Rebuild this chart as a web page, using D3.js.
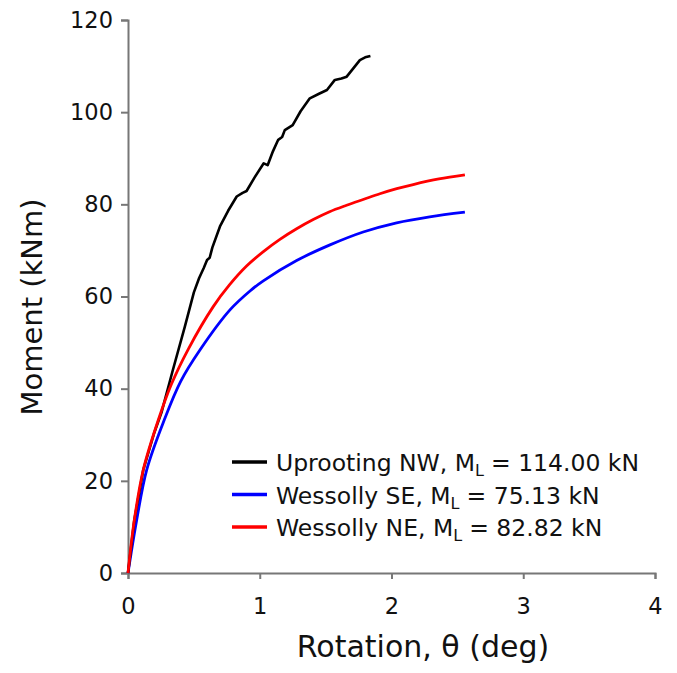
<!DOCTYPE html>
<html>
<head>
<meta charset="utf-8">
<script src="https://cdn.jsdelivr.net/npm/d3@7"></script>
<style>
  body { margin: 0; background: #fff; }
  svg text { font-family: "DejaVu Sans", sans-serif; fill: #111; }
</style>
</head>
<body>
<div id="chart"></div>
<script>
// rotation (deg) vs moment (kNm)
let uprootX = [0, 0.048, 0.116, 0.2, 0.256, 0.34, 0.432, 0.50, 0.54, 0.575, 0.60, 0.62, 0.64, 0.698, 0.76, 0.825, 0.87, 0.90, 0.96, 1.03, 1.06, 1.10, 1.14, 1.17, 1.19, 1.25, 1.31, 1.38, 1.45, 1.51, 1.57, 1.62, 1.66, 1.71, 1.76, 1.80, 1.84];
let uprootY = [0, 11.5, 22.4, 30.5, 35.0, 44.0, 53.5, 60.9, 64.0, 66.2, 67.9, 68.4, 70.6, 75.2, 78.6, 81.7, 82.5, 82.9, 85.8, 88.9, 88.5, 91.5, 94.0, 94.6, 96.1, 97.2, 100.2, 103.0, 104.0, 104.8, 107.0, 107.3, 107.7, 109.5, 111.3, 111.9, 112.2];

let seX = [0, 0.066, 0.142, 0.275, 0.40, 0.546, 0.774, 0.926, 1.027, 1.28, 1.533, 1.785, 2.039, 2.29, 2.557];
let seY = [0, 11.5, 22.4, 33.2, 41.6, 48.4, 57.1, 61.2, 63.4, 67.8, 71.2, 74.0, 76.0, 77.3, 78.3];

let neX = [0, 0.048, 0.116, 0.23, 0.33, 0.458, 0.647, 0.77, 0.90, 1.03, 1.153, 1.28, 1.406, 1.53, 1.659, 1.79, 1.912, 2.04, 2.165, 2.36, 2.557];
let neY = [0, 11.5, 22.4, 33.2, 41.0, 48.6, 57.8, 62.5, 66.6, 69.8, 72.4, 74.7, 76.7, 78.4, 79.8, 81.1, 82.3, 83.4, 84.3, 85.5, 86.4];

let seriesNames = ["Uprooting NW, M", "Wessolly SE, M", "Wessolly NE, M"];
let seriesValues = ["= 114.00 kN", "= 75.13 kN", "= 82.82 kN"];
let seriesColors = ["#000000", "#0000ff", "#ff0000"];

let xTicks = [0, 1, 2, 3, 4];
let yTicks = [0, 20, 40, 60, 80, 100, 120];

let width = 677, height = 673;
let margin = {top: 20, right: 22, bottom: 100, left: 128};

let svg = d3.select("#chart").append("svg")
    .attr("width", width)
    .attr("height", height);

let x = d3.scaleLinear().domain([0, 4]).range([margin.left, width - margin.right]);
let y = d3.scaleLinear().domain([0, 120]).range([height - margin.bottom, margin.top]);

// axes
let xAxis = svg.append("g")
    .attr("transform", "translate(0," + y(0) + ")")
    .call(d3.axisBottom(x).tickValues(xTicks).tickSize(6).tickPadding(19).tickFormat(d3.format("d")));

let yAxis = svg.append("g")
    .attr("transform", "translate(" + x(0) + ",0)")
    .call(d3.axisLeft(y).tickValues(yTicks).tickSize(7).tickPadding(8).tickFormat(d3.format("d")));

[xAxis, yAxis].forEach(function(a){
    a.select(".domain").attr("stroke", "#777").attr("stroke-width", 2);
    a.selectAll(".tick line").attr("stroke", "#777").attr("stroke-width", 2);
    a.selectAll(".tick text").style("font-size", "22.5px").attr("fill", "#111");
});

// axis titles
svg.append("text")
    .attr("x", 423)
    .attr("y", 657)
    .attr("text-anchor", "middle")
    .style("font-size", "30px")
    .text("Rotation, θ (deg)");

svg.append("text")
    .attr("transform", "translate(42,307) rotate(-90)")
    .attr("text-anchor", "middle")
    .style("font-size", "29px")
    .text("Moment (kNm)");

// curves
let line = d3.line()
    .x(d => x(d[0]))
    .y(d => y(d[1]));

let series = [
    d3.zip(uprootX, uprootY),
    d3.zip(seX, seY),
    d3.zip(neX, neY)
];

// blue first, then black, red on top near the origin
[1, 0, 2].forEach(function(i){
    svg.append("path")
        .datum(series[i])
        .attr("fill", "none")
        .attr("stroke", seriesColors[i])
        .attr("stroke-width", i == 0 ? 2.6 : 2.8)
        .attr("stroke-linejoin", "round")
        .attr("d", line.curve(i == 0 ? d3.curveLinear : d3.curveCatmullRom.alpha(0.5)));
});

// legend
let legend = svg.append("g");
seriesNames.forEach(function(name, i){
    let ly = 462 + i * 32.5;
    legend.append("line")
        .attr("x1", 232).attr("x2", 267)
        .attr("y1", ly).attr("y2", ly)
        .attr("stroke", seriesColors[i])
        .attr("stroke-width", 3.5);
    let t = legend.append("text")
        .attr("x", 276)
        .attr("y", ly + 9)
        .style("font-size", "23.5px");
    t.append("tspan").text(name);
    t.append("tspan").attr("dy", 5).style("font-size", "16px").text("L");
    t.append("tspan").attr("dy", -5).attr("dx", 7).text(seriesValues[i]);
});
</script>
</body>
</html>
